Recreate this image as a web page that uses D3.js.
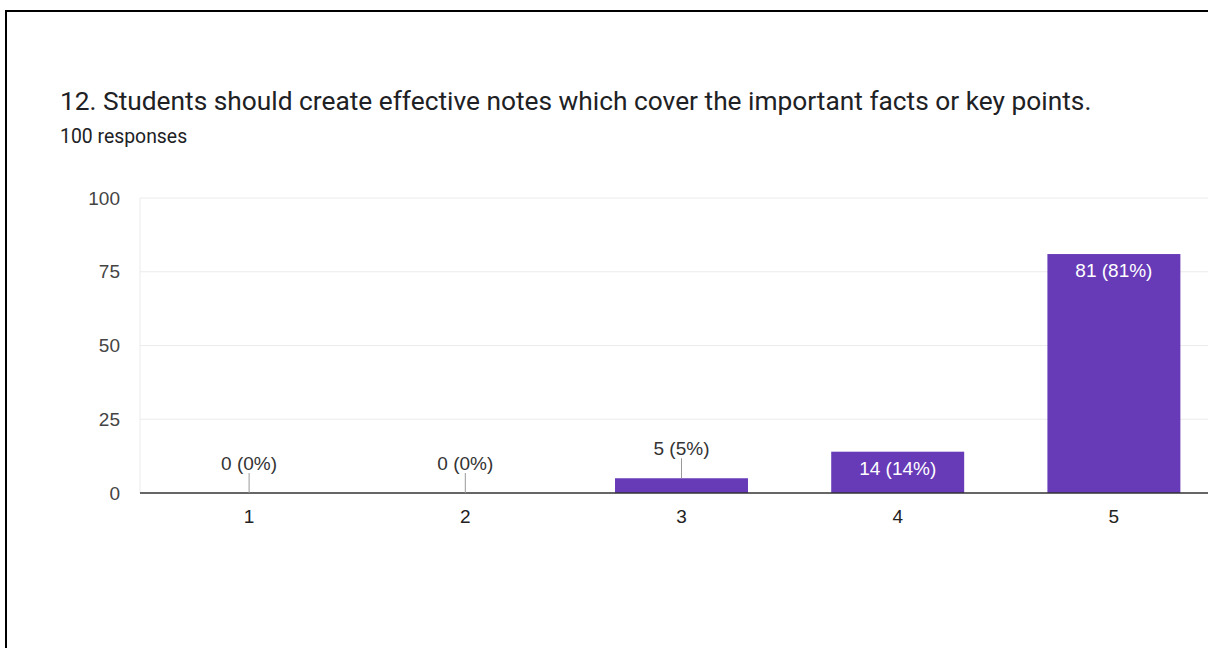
<!DOCTYPE html>
<html>
<head>
<meta charset="utf-8">
<script src="https://cdn.jsdelivr.net/npm/d3@7"></script>
<style>
  html, body { margin: 0; padding: 0; background: #fff; }
  svg { display: block; font-family: Roboto, Arial, sans-serif; }
</style>
</head>
<body>
<svg id="chart" width="1208" height="648"></svg>
<script>
// Survey answers on a 1–5 scale
const categories = ["1", "2", "3", "4", "5"];
const counts = [0, 0, 5, 14, 81];
const percents = ["0%", "0%", "5%", "14%", "81%"];
const yTicks = [0, 25, 50, 75, 100];
const titleText = "12. Students should create effective notes which cover the important facts or key points.";
const subtitleText = "100 responses";

const svg = d3.select("#chart");
const W = 1208, H = 648;
const chartFont = "'Liberation Sans', Arial, sans-serif";

// Frame lines on top and left edges
svg.append("line").attr("x1", 5).attr("x2", W).attr("y1", 11).attr("y2", 11)
  .attr("stroke", "#000").attr("stroke-width", 2);
svg.append("line").attr("x1", 6).attr("x2", 6).attr("y1", 10).attr("y2", H)
  .attr("stroke", "#000").attr("stroke-width", 2);

svg.append("text").attr("x", 60).attr("y", 110)
  .attr("font-size", 26.3).attr("fill", "#202124").text(titleText);
svg.append("text").attr("x", 60).attr("y", 143)
  .attr("font-size", 19.4).attr("fill", "#202124").text(subtitleText);

const plot = { left: 140, right: 1222, top: 198, bottom: 493 };

const x = d3.scaleBand().domain(categories)
  .range([plot.left + 1, plot.right]).paddingInner(0.385).paddingOuter(0.1925);
const y = d3.scaleLinear().domain([0, 100]).range([plot.bottom, plot.top]);

// Horizontal gridlines
svg.append("g").selectAll("line").data(yTicks.filter(d => d > 0)).join("line")
  .attr("x1", plot.left).attr("x2", W)
  .attr("y1", d => y(d)).attr("y2", d => y(d))
  .attr("stroke", "#ebebeb").attr("stroke-width", 1);
svg.append("line").attr("x1", plot.left).attr("x2", plot.left)
  .attr("y1", plot.top).attr("y2", plot.bottom)
  .attr("stroke", "#ebebeb").attr("stroke-width", 1);

// Y axis labels
const yAxis = d3.axisLeft(y).tickValues(yTicks).tickSize(0).tickPadding(20);
const gy = svg.append("g").attr("transform", `translate(${plot.left},0)`).call(yAxis);
gy.select(".domain").remove();
gy.selectAll("text").attr("font-size", 19).attr("fill", "#444").attr("font-family", chartFont);

const data = categories.map((c, i) => ({ c, v: counts[i], p: percents[i] }));

// Bars
svg.append("g").selectAll("rect").data(data.filter(d => d.v > 0)).join("rect")
  .attr("x", d => x(d.c)).attr("width", x.bandwidth())
  .attr("y", d => y(d.v)).attr("height", d => y(0) - y(d.v))
  .attr("fill", "#673ab7");

// Baseline
svg.append("line").attr("x1", plot.left).attr("x2", W)
  .attr("y1", y(0)).attr("y2", y(0)).attr("stroke", "#333").attr("stroke-width", 1.5);

// X axis labels
const xAxis = d3.axisBottom(x).tickSize(0).tickPadding(17);
const gx = svg.append("g").attr("transform", `translate(0,${plot.bottom})`).call(xAxis);
gx.select(".domain").remove();
gx.selectAll("text").attr("font-size", 19).attr("fill", "#222").attr("font-family", chartFont);

// Value labels: inside tall bars, above short bars with a leader line
const inside = d => (y(0) - y(d.v)) > 30;
const cx = d => x(d.c) + x.bandwidth() / 2;
const outer = data.filter(d => !inside(d));
svg.append("g").selectAll("line").data(outer).join("line")
  .attr("x1", cx).attr("x2", cx)
  .attr("y1", d => y(d.v) - 20).attr("y2", d => y(d.v))
  .attr("stroke", "#999").attr("stroke-width", 1);
svg.append("g").selectAll("text").data(outer).join("text")
  .attr("x", cx).attr("y", d => y(d.v) - 23)
  .attr("text-anchor", "middle").attr("font-size", 19).attr("fill", "#333")
  .attr("font-family", chartFont)
  .text(d => `${d.v} (${d.p})`);
svg.append("g").selectAll("text").data(data.filter(inside)).join("text")
  .attr("x", cx).attr("y", d => y(d.v) + 23)
  .attr("text-anchor", "middle").attr("font-size", 19).attr("fill", "#fff")
  .attr("font-family", chartFont)
  .text(d => `${d.v} (${d.p})`);
</script>
</body>
</html>
